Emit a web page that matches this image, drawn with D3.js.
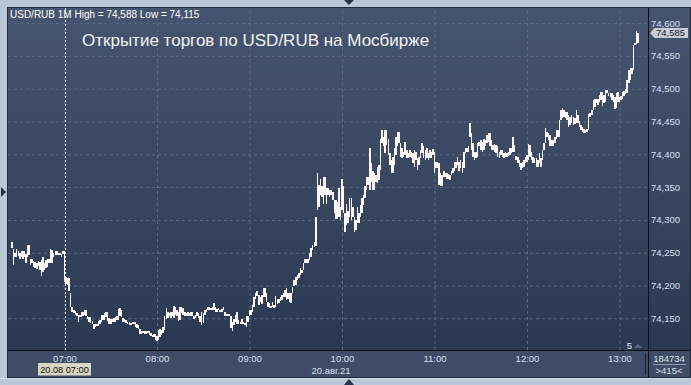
<!DOCTYPE html>
<html>
<head>
<meta charset="utf-8">
<script src="https://cdn.jsdelivr.net/npm/d3@7"></script>
<style>
  body { margin: 0; background: #b9c7d7; }
  svg { display: block; font-family: "Liberation Sans", Arial, sans-serif; }
</style>
</head>
<body>
<div id="chart"></div>
<script>
// Data
const headerText = "USD/RUB 1M High = 74,588 Low = 74,115";
const titleText = "Открытие торгов по USD/RUB на Мосбирже";
const firstBar = new Date(2021, 7, 20, 6, 26); // one bar per minute
const cursorTime = new Date(2021, 7, 20, 7, 0);
const cursorLabel = "20.08 07:00";
const dateLabel = "20.авг.21";
const volumeLabel = "184734";
const countLabel = ">415<";
const markerLabel = "5";
const lastPrice = 74.585;
const yTicks = [74.15, 74.2, 74.25, 74.3, 74.35, 74.4, 74.45, 74.5, 74.55, 74.6];
const xTicks = [7, 8, 9, 10, 11, 12, 13];

const highs = [
  74.266,74.256,74.249,74.256,74.253,74.250,74.252,74.253,74.252,74.248,74.261,74.261,74.241,74.240,74.238,74.236,74.234,
  74.238,74.236,74.239,74.243,74.234,74.239,74.241,74.240,74.256,74.254,74.250,74.252,74.253,74.250,74.250,74.248,74.253,
  74.253,74.213,74.212,74.211,74.188,74.168,74.163,74.161,74.158,74.155,74.155,74.159,74.160,74.163,74.163,74.154,74.152,
  74.152,74.146,74.142,74.141,74.141,74.146,74.147,74.155,74.155,74.158,74.160,74.159,74.150,74.149,74.149,74.150,74.152,
  74.153,74.164,74.165,74.163,74.150,74.149,74.147,74.145,74.145,74.143,74.145,74.145,74.145,74.142,74.140,74.133,74.130,
  74.131,74.131,74.130,74.130,74.130,74.127,74.125,74.126,74.126,74.123,74.132,74.133,74.132,74.137,74.153,74.165,
  74.160,74.158,74.160,74.159,74.169,74.168,74.163,74.160,74.168,74.168,74.165,74.159,74.158,74.159,74.158,74.160,74.160,
  74.153,74.155,74.160,74.158,74.153,74.160,74.158,74.163,74.164,74.168,74.167,74.165,74.168,74.174,74.168,74.164,74.165,
  74.163,74.164,74.168,74.159,74.157,74.157,74.157,74.153,74.145,74.149,74.155,74.160,74.147,74.145,74.149,74.145,74.143,
  74.153,74.153,74.163,74.163,74.170,74.183,74.189,74.192,74.186,74.183,74.186,74.196,74.196,74.188,74.175,74.173,74.169,
  74.175,74.170,74.184,74.179,74.180,74.183,74.186,74.189,74.193,74.196,74.188,74.188,74.188,74.198,74.208,74.213,74.216,
  74.219,74.226,74.224,74.234,74.241,74.241,74.241,74.249,74.257,74.262,74.267,
  74.305,
  74.371,74.353,74.363,74.351,74.366,74.366,74.348,74.348,74.346,74.346,74.343,74.330,74.330,74.328,74.348,74.320,74.363,
  74.351,74.310,74.325,74.313,74.333,74.333,74.320,74.305,74.300,74.320,74.310,74.323,74.333,74.338,74.351,74.366,74.366,
  74.409,74.386,74.374,74.371,74.368,74.381,74.384,74.424,74.437,74.427,74.437,74.437,74.424,74.402,74.391,74.396,74.409,
  74.427,74.434,74.434,74.417,74.409,74.404,74.419,74.407,74.402,74.407,74.404,74.402,74.407,74.404,74.394,74.396,74.407,
  74.417,74.412,74.407,74.409,74.402,74.407,74.404,74.408,74.404,74.389,74.389,74.386,74.371,74.368,74.374,74.372,74.371,
  74.370,74.368,74.374,74.379,74.389,74.389,74.396,74.389,74.391,74.389,74.404,74.409,74.409,74.412,
  74.447,74.432,74.417,74.404,74.404,74.417,74.418,74.422,74.419,74.424,74.422,74.429,74.432,74.432,74.422,74.414,74.416,
  74.414,74.413,74.404,74.407,74.407,74.402,74.404,74.402,74.404,74.409,74.409,74.426,74.414,74.397,74.396,74.391,74.386,
  74.389,74.391,74.396,74.399,74.416,74.414,74.404,74.396,74.395,74.394,74.392,74.402,74.394,74.407,74.417,74.440,74.434,
  74.432,74.429,74.422,74.422,74.427,74.437,74.437,74.453,74.467,74.470,74.467,74.465,74.465,74.460,74.457,74.460,74.457,
  74.455,74.467,74.460,74.450,74.445,74.442,74.438,74.437,74.438,74.462,74.463,74.467,74.483,74.484,74.485,74.484,74.490,
  74.495,74.495,74.490,74.498,74.498,74.494,74.493,74.494,74.490,74.488,74.493,74.495,74.487,74.489,74.495,74.497,74.499,
  74.513,74.528,74.531,74.531,74.567,74.570,74.588,74.585
];

const lows = [
  74.257,74.232,74.244,74.244,74.245,74.241,74.244,74.241,74.244,74.234,74.244,74.247,74.231,74.234,74.228,74.226,74.225,
  74.229,74.224,74.215,74.220,74.224,74.226,74.228,74.234,74.234,74.235,74.244,74.247,74.247,74.246,74.247,74.244,74.248,
  74.206,74.203,74.201,74.191,74.168,74.160,74.158,74.155,74.153,74.145,74.152,74.152,74.153,74.155,74.153,74.149,74.145,
  74.143,74.141,74.133,74.136,74.138,74.138,74.142,74.145,74.147,74.147,74.152,74.146,74.142,74.142,74.144,74.144,74.145,
  74.147,74.147,74.154,74.152,74.145,74.145,74.143,74.141,74.140,74.140,74.141,74.141,74.137,74.135,74.133,74.126,74.126,
  74.127,74.126,74.126,74.127,74.125,74.123,74.121,74.122,74.117,74.115,74.117,74.122,74.125,74.127,74.132,74.149,
  74.150,74.153,74.150,74.154,74.150,74.155,74.153,74.146,74.147,74.158,74.155,74.154,74.154,74.153,74.153,74.154,74.153,
  74.149,74.150,74.153,74.150,74.145,74.140,74.143,74.155,74.160,74.163,74.163,74.162,74.163,74.163,74.160,74.160,74.162,
  74.159,74.160,74.162,74.154,74.154,74.154,74.154,74.135,74.131,74.140,74.145,74.142,74.142,74.141,74.142,74.141,74.140,
  74.137,74.145,74.153,74.155,74.159,74.168,74.180,74.184,74.170,74.175,74.172,74.183,74.183,74.175,74.168,74.165,74.165,
  74.168,74.165,74.168,74.172,74.174,74.177,74.178,74.182,74.183,74.178,74.179,74.175,74.174,74.188,74.199,74.201,74.208,
  74.211,74.216,74.219,74.224,74.235,74.235,74.235,74.239,74.244,74.254,74.259,
  74.260,
  74.315,74.320,74.338,74.335,74.325,74.338,74.325,74.338,74.335,74.338,74.330,74.310,74.302,74.302,74.305,74.300,74.315,
  74.310,74.282,74.292,74.295,74.305,74.300,74.305,74.281,74.285,74.295,74.295,74.305,74.310,74.323,74.333,74.346,74.353,
  74.346,74.358,74.346,74.346,74.358,74.357,74.361,74.376,74.417,74.412,74.402,74.414,74.399,74.384,74.371,74.371,74.384,
  74.399,74.412,74.417,74.396,74.394,74.396,74.399,74.394,74.394,74.396,74.394,74.386,74.381,74.391,74.376,74.384,74.394,
  74.402,74.394,74.391,74.394,74.391,74.394,74.394,74.399,74.371,74.379,74.379,74.353,74.352,74.351,74.366,74.366,74.363,
  74.363,74.361,74.368,74.371,74.374,74.379,74.384,74.374,74.379,74.371,74.379,74.402,74.404,74.404,
  74.427,74.407,74.396,74.391,74.395,74.396,74.412,74.407,74.404,74.407,74.412,74.417,74.419,74.412,74.407,74.407,74.404,
  74.402,74.396,74.395,74.399,74.396,74.394,74.396,74.396,74.397,74.399,74.402,74.404,74.404,74.391,74.386,74.381,74.376,
  74.379,74.381,74.387,74.389,74.391,74.396,74.391,74.387,74.386,74.381,74.380,74.386,74.380,74.391,74.407,74.417,74.427,
  74.422,74.412,74.412,74.413,74.417,74.424,74.427,74.427,74.452,74.455,74.457,74.455,74.452,74.442,74.445,74.447,74.445,
  74.446,74.447,74.447,74.442,74.437,74.434,74.433,74.433,74.434,74.437,74.457,74.460,74.467,74.472,74.478,74.475,74.480,
  74.483,74.473,74.478,74.480,74.493,74.489,74.487,74.483,74.480,74.469,74.470,74.480,74.480,74.483,74.485,74.489,74.492,
  74.493,74.508,74.513,74.523,74.528,74.567,74.568,74.570
];

const bars = highs.map((h, i) => ({
  time: d3.timeMinute.offset(firstBar, i),
  high: h,
  low: lows[i]
}));

// Dimensions
const dims = {
  width: 691, height: 385,
  left: 8, top: 8,
  plotRight: 648, plotBottom: 350,
  right: 690, bottom: 377
};

const svg = d3.select("#chart").append("svg")
  .attr("width", dims.width)
  .attr("height", dims.height);

const defs = svg.append("defs");
const grad = defs.append("linearGradient")
  .attr("id", "bg")
  .attr("gradientUnits", "userSpaceOnUse")
  .attr("x1", 0).attr("y1", dims.top).attr("x2", 0).attr("y2", dims.plotBottom);
grad.append("stop").attr("offset", "0%").attr("stop-color", "#46556f");
grad.append("stop").attr("offset", "100%").attr("stop-color", "#2b3852");

// outer frame
svg.append("rect").attr("width", dims.width).attr("height", dims.height).attr("fill", "#b9c7d7");
svg.append("line").attr("x1", 0).attr("x2", dims.width).attr("y1", 378.5).attr("y2", 378.5)
  .attr("stroke", "#d3dce7");
svg.append("rect")
  .attr("x", dims.left - 0.5).attr("y", dims.top - 0.5)
  .attr("width", dims.right - dims.left + 1).attr("height", dims.bottom - dims.top + 1)
  .attr("fill", "url(#bg)").attr("stroke", "#1f2a3d");

// bottom axis strip
svg.append("rect")
  .attr("x", dims.left).attr("y", dims.plotBottom + 1)
  .attr("width", dims.right - dims.left).attr("height", dims.bottom - dims.plotBottom - 1)
  .attr("fill", "#3e4c66");

// little arrows on the frame
svg.append("path").attr("d", "M344,0 L354,0 L349,5 Z").attr("fill", "#27334a");
svg.append("path").attr("d", "M1,187 L1,197 L6,192 Z").attr("fill", "#27334a");
svg.append("path").attr("d", "M344,385 L354,385 L349,379 Z").attr("fill", "#27334a");

// Scales
const yScale = d3.scaleLinear()
  .domain([74.1017, 74.623])
  .range([dims.plotBottom, dims.top]);

const xScale = d3.scaleTime()
  .domain([new Date(2021, 7, 20, 6, 23, 21), new Date(2021, 7, 20, 13, 18, 29)])
  .range([dims.left, dims.plotRight]);

const hourTicks = xTicks.map(h => new Date(2021, 7, 20, h, 0));

// Grid
const gridY = svg.append("g")
  .attr("transform", `translate(${dims.left},0)`)
  .call(d3.axisLeft(yScale).tickValues(yTicks).tickSize(-(dims.plotRight - dims.left)).tickFormat(""));
const gridX = svg.append("g")
  .attr("transform", `translate(0,${dims.plotBottom})`)
  .call(d3.axisBottom(xScale).tickValues(hourTicks).tickSize(-(dims.plotBottom - dims.top)).tickFormat(""));
[gridY, gridX].forEach(g => {
  g.select(".domain").remove();
  g.selectAll("line").attr("stroke", "#5a6983").attr("stroke-dasharray", "3,3");
});

// Header and title
svg.append("text")
  .attr("x", 10).attr("y", 17.5)
  .attr("fill", "#ffffff").attr("font-size", 10)
  .text(headerText);

svg.append("text")
  .attr("x", 82).attr("y", 45.5)
  .attr("fill", "#f2f2f2").attr("font-size", 17)
  .text(titleText);

// Cursor line
svg.append("line")
  .attr("x1", Math.round(xScale(cursorTime)) + 0.5).attr("x2", Math.round(xScale(cursorTime)) + 0.5)
  .attr("y1", dims.top).attr("y2", dims.plotBottom)
  .attr("stroke", "#ffffff").attr("stroke-dasharray", "2,2");

// Bars
svg.append("g")
  .attr("shape-rendering", "crispEdges")
  .selectAll("rect")
  .data(bars)
  .join("rect")
  .attr("x", d => xScale(d.time) - 0.75)
  .attr("width", 1.5)
  .attr("y", d => yScale(d.high))
  .attr("height", d => Math.max(yScale(d.low) - yScale(d.high), 2))
  .attr("fill", "#fdf7f4");

// frame lines
svg.append("line").attr("x1", dims.plotRight + 0.5).attr("x2", dims.plotRight + 0.5)
  .attr("y1", dims.top).attr("y2", dims.bottom).attr("stroke", "#0b0f18");
svg.append("line").attr("x1", dims.left).attr("x2", dims.right)
  .attr("y1", dims.plotBottom + 0.5).attr("y2", dims.plotBottom + 0.5).attr("stroke", "#0b0f18");
svg.append("line").attr("x1", 645.5).attr("x2", 645.5)
  .attr("y1", 353).attr("y2", 375).attr("stroke", "#1c2536");

// Axes
const yAxisGroup = svg.append("g")
  .attr("transform", `translate(${dims.plotRight},0)`)
  .call(d3.axisRight(yScale).tickValues(yTicks).tickSize(0).tickPadding(3)
    .tickFormat(d => d3.format(".3f")(d).replace(".", ",")));
const xAxisGroup = svg.append("g")
  .attr("transform", `translate(0,${dims.plotBottom + 1})`)
  .call(d3.axisBottom(xScale).tickValues(hourTicks).tickSize(0).tickPadding(4)
    .tickFormat(d3.timeFormat("%H:%M")));
[yAxisGroup, xAxisGroup].forEach(g => {
  g.select(".domain").remove();
  g.selectAll("text").attr("fill", "#d6e0ef").attr("font-size", 9.5)
    .attr("font-family", "'Liberation Sans', Arial, sans-serif");
});

// last price tag
const yLast = yScale(lastPrice);
svg.append("path")
  .attr("d", `M650,${yLast} L654.5,${yLast - 5} L688,${yLast - 5} L688,${yLast + 5} L654.5,${yLast + 5} Z`)
  .attr("fill", "#c9cdd5");
svg.append("text")
  .attr("x", 656).attr("y", yLast).attr("dy", "0.35em")
  .attr("fill", "#17202e").attr("font-size", 9.5)
  .text(d3.format(".3f")(lastPrice).replace(".", ","));

// cursor time label
const xc = xScale(cursorTime);
svg.append("rect")
  .attr("x", xc - 26.5).attr("y", 363).attr("width", 53).attr("height", 12.5)
  .attr("fill", "#d7d6c0");
svg.append("text")
  .attr("x", xc).attr("y", 373.2).attr("text-anchor", "middle")
  .attr("fill", "#111111").attr("font-size", 9.2)
  .text(cursorLabel);

svg.append("text")
  .attr("x", 331).attr("y", 374).attr("text-anchor", "middle")
  .attr("fill", "#d6e0ef").attr("font-size", 9.5)
  .text(dateLabel);

// right-bottom info
svg.append("text")
  .attr("x", 669).attr("y", 361.5).attr("text-anchor", "middle")
  .attr("fill", "#d6e0ef").attr("font-size", 9.5)
  .text(volumeLabel);
svg.append("line").attr("x1", 653).attr("x2", 686).attr("y1", 364.5).attr("y2", 364.5)
  .attr("stroke", "#8e9ab0");
svg.append("text")
  .attr("x", 669).attr("y", 374).attr("text-anchor", "middle")
  .attr("fill", "#d6e0ef").attr("font-size", 9.5)
  .text(countLabel);

// marker count
svg.append("text")
  .attr("x", 629.5).attr("y", 348.5).attr("text-anchor", "middle")
  .attr("fill", "#e6ecf5").attr("font-size", 9.5)
  .text(markerLabel);
svg.append("path").attr("d", "M634,348 L642,348 L638,343.5 Z").attr("fill", "#55637c");
</script>
</body>
</html>
